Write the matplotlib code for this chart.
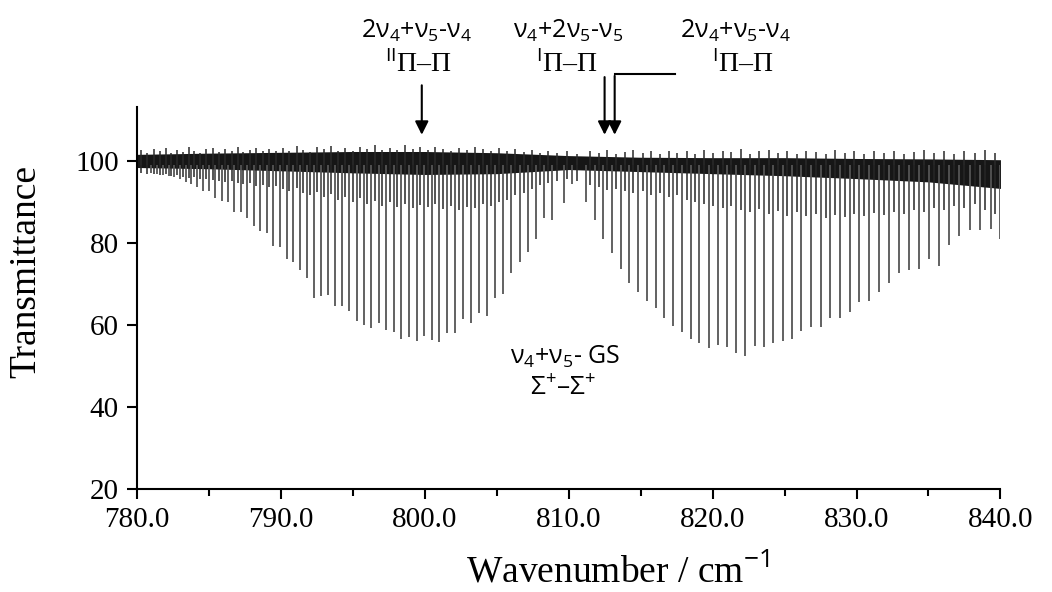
import numpy as np
import matplotlib
matplotlib.use('Agg')
import matplotlib.pyplot as plt

plt.rcParams['mathtext.fontset'] = 'custom'
plt.rcParams['mathtext.rm'] = 'Open Sans'
plt.rcParams['mathtext.it'] = 'Open Sans'

# nu4+nu5 - GS band, P branch (wavenumber, transmittance at line minimum)
p_pos = [780.97, 781.39, 781.81, 782.22, 782.57, 782.99, 783.39, 783.80, 784.19, 784.61,
         785.05, 785.47, 785.91, 786.35, 786.77, 787.21, 787.65, 788.12, 788.57, 789.04,
         789.48, 789.94, 790.41, 790.87, 791.33, 791.80, 792.31, 792.77, 793.26, 793.77,
         794.27, 794.76, 795.28, 795.78, 796.29, 796.80, 797.31, 797.85, 798.38, 798.91,
         799.45, 799.95, 800.49, 801.02, 801.57, 802.13, 802.67, 803.22, 803.78, 804.33,
         804.89, 805.45, 806.00, 806.61, 807.16, 807.72, 808.30, 808.87, 809.65, 810.22]
p_min = [97.0, 96.8, 96.5, 96.3, 96.0, 95.6, 94.7, 94.3, 93.5, 92.6,
         92.6, 90.9, 90.1, 89.9, 87.5, 87.5, 86.0, 84.1, 82.8, 82.4,
         79.1, 79.0, 76.1, 75.3, 73.3, 71.5, 66.6, 67.1, 67.2, 64.6,
         64.6, 63.4, 61.0, 60.0, 59.2, 60.4, 58.7, 58.2, 56.5, 57.1,
         56.0, 57.3, 56.3, 55.9, 58.1, 57.9, 61.3, 60.5, 62.8, 62.1,
         66.4, 67.6, 72.6, 75.3, 77.7, 81.0, 86.1, 85.4, 89.6, 94.3]

# R branch
r_pos = [811.22, 811.81, 812.40, 813.03, 813.62, 814.22, 814.83, 815.44, 816.04, 816.65,
         817.27, 817.87, 818.50, 819.09, 819.73, 820.37, 821.00, 821.62, 822.27, 822.92,
         823.57, 824.22, 824.86, 825.52, 826.16, 826.84, 827.51, 828.18, 828.86, 829.52,
         830.20, 830.89, 831.57, 832.23, 832.93, 833.62, 834.32, 835.04, 835.74, 836.43,
         837.15, 837.87, 838.56, 839.31, 839.95]
r_min = [89.9, 85.4, 81.0, 77.5, 73.5, 70.2, 68.0, 65.8, 64.0, 61.6,
         59.7, 58.3, 56.5, 55.5, 54.3, 55.1, 54.7, 53.2, 52.3, 54.9,
         54.7, 55.5, 56.1, 56.6, 58.6, 59.4, 59.5, 61.6, 61.6, 63.2,
         65.6, 65.8, 68.0, 70.2, 72.5, 73.3, 73.5, 76.1, 74.3, 79.4,
         81.6, 83.0, 83.0, 83.4, 81.0]

# weaker hot-band lines / noise spikes around the 100 % baseline
hot_pos = [780.3, 780.7, 781.2, 781.6, 782.0, 782.4, 782.8, 783.2, 783.6, 784.0,
           784.4, 784.8, 785.3, 785.7, 786.1, 786.6, 787.0, 787.4, 787.9, 788.3,
           788.8, 789.2, 789.7,
           790.15, 790.6, 791.1, 791.55, 792.05, 792.5, 793.0, 793.5, 794.0, 794.5,
           795.0, 795.5, 796.0, 796.55, 797.05, 797.6, 798.1, 798.65, 799.2, 799.7,
           800.2, 800.75, 801.3, 801.85, 802.4, 802.95, 803.5, 804.05, 804.6, 805.15,
           805.7, 806.3, 806.9, 807.45, 808.0, 808.6, 809.2, 809.9,
           810.6, 811.5, 812.1, 812.7, 813.3, 813.9, 814.5, 815.15, 815.75, 816.35,
           816.95, 817.55, 818.2, 818.8, 819.4,
           820.05, 820.7, 821.3, 821.95, 822.6, 823.25, 823.9, 824.55, 825.2, 825.85,
           826.5, 827.2, 827.85, 828.5, 829.2, 829.85,
           830.55, 831.2, 831.9, 832.6, 833.3, 834.0, 834.7, 835.4, 836.1, 836.8,
           837.5, 838.2, 838.9, 839.6]
hot_min = [97.0, 96.8, 96.8, 96.5, 96.6, 96.2, 96.4, 96.0, 95.8, 96.0,
           95.5, 95.6, 95.2, 95.0, 94.8, 95.1, 94.5, 94.2, 94.6, 93.8,
           94.0, 93.5, 93.8,
           93.0, 92.5, 93.2, 92.0, 91.5, 92.3, 91.0, 91.8, 90.5, 91.2,
           90.0, 90.8, 89.5, 90.2, 89.0, 89.8, 88.8, 89.5, 88.5, 89.2,
           88.6, 89.4, 88.2, 89.0, 88.0, 88.8, 88.5, 89.5, 89.0, 90.0,
           90.5, 91.5, 92.0, 93.0, 94.0, 94.5, 95.0, 95.5,
           95.0, 94.0, 93.5, 92.8, 93.0, 92.5, 92.0, 92.5, 91.5, 92.0,
           91.0, 91.5, 90.5, 90.0, 89.5,
           89.0, 88.5, 89.0, 88.0, 87.5, 88.2, 87.0, 87.8, 86.5, 87.5,
           86.5, 87.0, 86.0, 86.8, 86.2, 87.0,
           86.5, 87.2, 86.8, 87.5, 87.0, 88.0, 87.5, 88.5, 88.0, 89.0,
           88.5, 89.5, 88.0, 87.0]
hot_top = [102.5, 101.8, 102.9, 102.2, 103.1, 101.9, 102.6, 102.0, 103.3, 102.4,
           101.8, 102.7, 103.0, 102.1, 102.8, 102.3, 103.4, 102.0, 102.6, 103.1,
           102.2, 102.9, 102.4,
           103.0, 102.3, 103.5, 102.6, 102.1, 103.2, 102.7, 103.6, 102.4, 103.0,
           102.2, 103.4, 102.8, 103.7, 102.5, 103.1, 102.6, 103.9, 102.9, 103.3,
           102.6, 103.4, 102.9, 102.3, 103.1, 102.5, 103.3, 102.7, 102.2, 103.0,
           102.4, 102.8, 102.1, 102.6, 101.9, 102.4, 101.8, 102.2,
           101.6, 102.3, 101.8, 102.5, 101.7, 102.1, 102.6, 101.8, 102.2, 101.6,
           102.4, 101.9, 102.3, 101.7, 102.5,
           101.8, 102.4, 102.0, 102.7, 101.7, 102.2, 102.5, 101.9, 102.3, 101.6,
           102.4, 102.0, 101.7, 102.5, 101.9, 102.2,
           101.7, 102.3, 101.9, 102.4, 101.6, 102.1, 102.5, 101.8, 102.2, 101.7,
           102.4, 101.9, 102.6, 101.8]

# dense core of the baseline band
env_x = [780, 785, 790, 795, 800, 805, 810, 815, 820, 825, 830, 835, 840]
core_top = [101.5, 101.8, 102.0, 102.2, 102.2, 101.9, 101.2, 100.8, 100.7, 100.7, 100.5, 100.4, 100.2]
core_bot = [98.3, 98.0, 97.5, 97.0, 96.6, 96.8, 97.8, 97.3, 96.8, 96.3, 95.6, 94.8, 93.2]

fig = plt.figure(figsize=(10.52, 5.92), dpi=100)
ax = fig.add_axes([0.130, 0.174, 0.821, 0.645])

ax.vlines(hot_pos, hot_min, 99, color='#262626', lw=1.1)
ax.vlines(hot_pos, 99, hot_top, color='#2a2a2a', lw=1.1)
ax.fill_between(env_x, core_bot, core_top, color='#161616', lw=0)
ax.vlines(p_pos, p_min, 99, color='#555555', lw=1.3)
ax.vlines(r_pos, r_min, 99, color='#555555', lw=1.3)

ax.set_xlim(780, 840)
ax.set_ylim(20, 113)
ax.spines['top'].set_visible(False)
ax.spines['right'].set_visible(False)
ax.spines['left'].set_linewidth(1.5)
ax.spines['bottom'].set_linewidth(1.5)

ax.set_xticks(np.arange(780, 841, 10))
ax.set_xticks(np.arange(785, 840, 10), minor=True)
ax.set_xticklabels(['%.1f' % v for v in np.arange(780, 841, 10)])
ax.set_yticks([20, 40, 60, 80, 100])
ax.tick_params(axis='both', which='major', direction='out', length=7, width=1.5,
               labelsize=21, pad=6)
ax.tick_params(axis='x', which='minor', direction='out', length=5, width=1.5)
for lab in ax.get_xticklabels() + ax.get_yticklabels():
    lab.set_family('Liberation Serif')

ax.set_xlabel('Wavenumber / cm$^{-1}$', family='Liberation Serif', fontsize=27)
ax.set_ylabel('Transmittance', family='Liberation Serif', fontsize=27)
ax.xaxis.set_label_coords(0.557, -0.165)
ax.yaxis.set_label_coords(-0.108, 0.57)

sans = 'Open Sans'
serif = 'Liberation Serif'

# annotations above the spectrum
ax.text(799.4, 131.5, '2ν$_4$+ν$_5$-ν$_4$', ha='center', va='center', fontsize=18, family=sans, clip_on=False)
ax.text(799.6, 123.6, '$^{\\mathrm{II}}$Π–Π', ha='center', va='center', fontsize=20, family=serif, clip_on=False)
ax.annotate('', xy=(799.8, 105.6), xytext=(799.8, 119.0),
            arrowprops=dict(arrowstyle='-|>', color='black', lw=1.5, mutation_scale=20), annotation_clip=False)

ax.text(810.0, 131.5, 'ν$_4$+2ν$_5$-ν$_5$', ha='center', va='center', fontsize=18, family=sans, clip_on=False)
ax.text(809.9, 123.6, '$^{\\mathrm{I}}$Π–Π', ha='center', va='center', fontsize=20, family=serif, clip_on=False)
ax.annotate('', xy=(812.5, 105.6), xytext=(812.5, 121.0),
            arrowprops=dict(arrowstyle='-|>', color='black', lw=1.5, mutation_scale=20), annotation_clip=False)

ax.text(821.6, 131.5, '2ν$_4$+ν$_5$-ν$_4$', ha='center', va='center', fontsize=18, family=sans, clip_on=False)
ax.text(822.1, 123.6, '$^{\\mathrm{I}}$Π–Π', ha='center', va='center', fontsize=20, family=serif, clip_on=False)
ax.plot([817.4, 813.2], [121.1, 121.1], color='black', lw=1.5, clip_on=False)
ax.annotate('', xy=(813.2, 105.6), xytext=(813.2, 121.3),
            arrowprops=dict(arrowstyle='-|>', color='black', lw=1.5, mutation_scale=20), annotation_clip=False)

ax.text(809.8, 52.2, 'ν$_4$+ν$_5$- GS', ha='center', va='center', fontsize=18, family=sans)
ax.text(809.6, 44.4, 'Σ$^{+}$–Σ$^{+}$', ha='center', va='center', fontsize=19, family=sans)

fig.savefig('out.png', dpi=100)
